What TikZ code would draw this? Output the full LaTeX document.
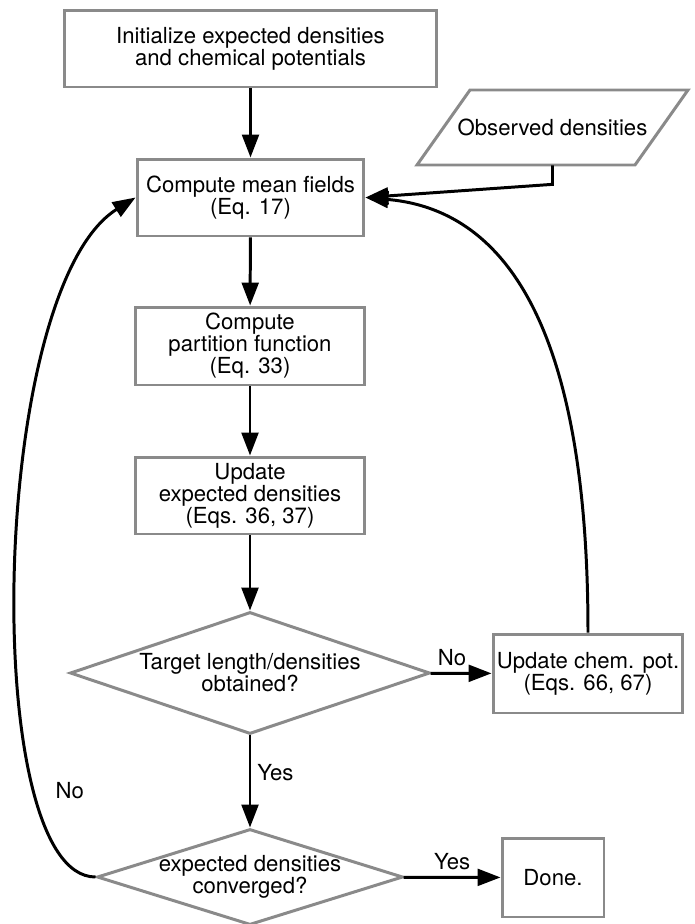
\documentclass[tikz,border=0pt]{standalone}
\usepackage{fontspec}
\setmainfont{TeX Gyre Heros}
\usetikzlibrary{shapes.geometric,arrows.meta}
\definecolor{borda}{RGB}{138,138,138}
\begin{document}
\begin{tikzpicture}[x=0.02cm,y=0.02cm,
  font=\fontsize{12.6}{12.6}\selectfont,
  caixa/.style={draw=borda, line width=1.7pt, align=center, inner sep=0pt},
  losango/.style={diamond, draw=borda, line width=1.7pt, align=center, inner xsep=0pt, inner ysep=-3pt},
  seta/.style={line width=1.7pt, -{Triangle[length=13pt,width=9.5pt]}}]
  \useasboundingbox (0,0) rectangle (695,-924);

  % caixas
  \node[caixa, minimum width=7.46cm, minimum height=1.54cm] (init) at (250.5,-48.5) {Initialize expected densities\\and chemical potentials};
  \node[inner sep=0pt, minimum width=5.42cm, minimum height=1.5cm] (obs) at (552.5,-127.5) {Observed densities};
  \draw[borda, line width=1.7pt, line join=miter] (obs.center) ++(-135.5,-37.5) -- ++(218,0) -- ++(53,75) -- ++(-218,0) -- cycle;
  \node[caixa, minimum width=4.54cm, minimum height=1.54cm] (campo) at (250.5,-197.5) {Compute mean fields\\(Eq. 17)};
  \node[caixa, minimum width=4.6cm, minimum height=1.56cm] (part) at (250,-346) {Compute\\partition function\\(Eq. 33)};
  \node[caixa, minimum width=4.6cm, minimum height=1.54cm] (atual) at (250,-495.5) {Update\\expected densities\\(Eqs. 36, 37)};
  \node[caixa, minimum width=3.8cm, minimum height=1.58cm] (quim) at (588,-673.5) {Update chem. pot.\\(Eqs. 66, 67)};
  \node[caixa, minimum width=2.04cm, minimum height=1.58cm] (fim) at (553,-877.5) {Done.};

  % decisoes
  \node[losango, aspect=2.95, minimum width=7.2cm, minimum height=2.44cm] (alvo) at (250,-673) {Target length/densities\\obtained?};
  \node[losango, aspect=3.19, minimum width=6.12cm, minimum height=1.92cm] (conv) at (250,-877) {expected densities\\converged?};

  % setas
  \draw[seta] (init) -- (campo);
  \draw[seta] (campo) -- (part);
  \draw[seta] (part) -- (atual);
  \draw[seta] (atual) -- (alvo);
  \draw[seta] (alvo) -- node[right, pos=0.4] {Yes} (conv);
  \draw[seta] (alvo) -- node[above, pos=0.35] {No} (quim);
  \draw[seta] (conv) -- node[above] {Yes} (fim);
  \draw[seta] (obs.south) -- ++(0,-19) -- (campo.east);
  \draw[seta] (quim.north) to[out=90, in=-5] (campo.east);
  \draw[seta] (conv.west) .. controls +(-117,0) and +(-147,-92) .. node[pos=0.24, right=0.3cm] {No} (campo.west);
\end{tikzpicture}
\end{document}
